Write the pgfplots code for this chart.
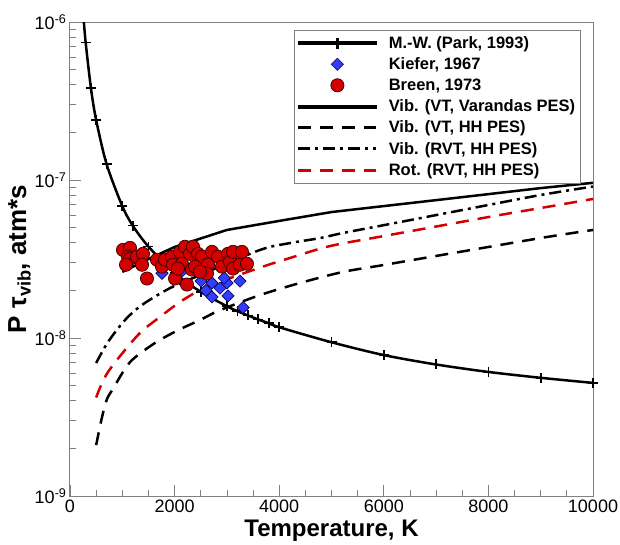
\documentclass[border=0pt]{standalone}
\usepackage{pgfplots}
\pgfplotsset{compat=1.18}
\usepackage{fontspec}
\setmainfont{Liberation Sans}
\definecolor{myred}{RGB}{212,0,0}
\definecolor{myblue}{RGB}{50,60,250}
\definecolor{axgray}{RGB}{128,128,128}
\begin{document}
\begin{tikzpicture}
\begin{axis}[
  name=ax,
  scale only axis, width=523pt, height=474pt,
  xmin=0, xmax=10000, ymin=1e-9, ymax=1e-6, ymode=log,
  scaled x ticks=false,
  xtick={0,2000,4000,6000,8000,10000},
  xticklabels={0,2000,4000,6000,8000,10000},
  minor x tick num=3,
  ytick={1e-9,1e-8,1e-7,1e-6},
  yticklabels={10\textsuperscript{-9},10\textsuperscript{-8},10\textsuperscript{-7},10\textsuperscript{-6}},
  xtick pos=bottom, ytick pos=left, tick align=inside,
  major tick length=11pt, minor tick length=6pt,
  axis line style={axgray, line width=1pt},
  every tick/.style={axgray, line width=0.8pt},
  tick label style={font=\fontsize{18}{20}\selectfont},
  xlabel={Temperature, K},
  ylabel={P τ\textsubscript{vib}, atm*s},
  xlabel style={font=\fontsize{24}{26}\selectfont\bfseries, yshift=-1pt},
  ylabel style={font=\fontsize{26}{28}\selectfont\bfseries, yshift=-3pt},
  legend cell align=left,
  legend style={at={(rel axis cs:0.976,0.983)}, anchor=north east, draw=axgray,
    font=\fontsize{16.5}{19}\selectfont\bfseries, row sep=3.8pt, inner xsep=3pt, inner ysep=4pt,
    /tikz/every odd column/.append style={column sep=9pt}},
  legend image code/.code={\draw[line width=2.8pt,mark repeat=2,mark phase=2,#1] plot coordinates {(0pt,0pt) (39pt,0pt) (78pt,0pt)};},
]
% Park curve line
\addplot[black, line width=2.5pt, smooth, forget plot] coordinates {
(265,1.0e-6) (300,7.40e-7) (400,3.82e-7) (500,2.40e-7) (700,1.26e-7) (1000,6.84e-8) (1200,5.14e-8) (1500,3.79e-8)
(2000,2.58e-8) (2500,1.96e-8) (3000,1.59e-8) (3200,1.48e-8) (3400,1.39e-8) (3600,1.31e-8) (3800,1.24e-8) (4000,1.17e-8)
(5000,9.4e-9) (6000,7.8e-9) (7000,6.8e-9) (8000,6.1e-9) (9000,5.6e-9) (10000,5.2e-9)};
\addplot[black, only marks, mark=+, mark size=5pt, mark options={line width=1.6pt}, forget plot] coordinates {
(300,7.40e-7) (400,3.82e-7) (500,2.40e-7) (700,1.26e-7) (1000,6.84e-8) (1200,5.14e-8) (1500,3.79e-8)
(2000,2.58e-8) (2500,1.96e-8) (3000,1.59e-8) (3200,1.48e-8) (3400,1.39e-8) (3600,1.31e-8) (3800,1.24e-8) (4000,1.17e-8)
(5000,9.4e-9) (6000,7.8e-9) (7000,6.8e-9) (8000,6.1e-9) (9000,5.6e-9) (10000,5.2e-9)};
% Kiefer 1967
\addplot[only marks, mark=square*, mark size=4.3pt, mark options={rotate=45, fill=myblue, draw=black!70!blue, line width=0.6pt}, forget plot] coordinates {
(1759,2.57e-8) (2122,2.61e-8) (2448,2.93e-8) (2505,2.29e-8) (2715,2.23e-8) (2715,1.82e-8) (2868,2.07e-8)
(3002,2.23e-8) (3021,1.85e-8) (3250,2.29e-8) (3308,1.56e-8) (2600,2.0e-8) (2950,2.4e-8)};
% Breen 1973
\addplot[only marks, mark=*, mark size=6.6pt, mark options={fill=myred, draw=black!80!red, line width=0.7pt}, forget plot] coordinates {
(1013,3.61e-8) (1147,3.72e-8) (1109,3.27e-8) (1150,3.18e-8) (1071,2.91e-8) (1281,3.27e-8) (1396,3.41e-8)
(1377,2.91e-8) (1472,2.38e-8) (1663,3.13e-8) (1759,2.83e-8) (1816,3.13e-8) (1950,3.27e-8) (1969,2.91e-8)
(2103,3.51e-8) (2141,2.95e-8) (2008,2.38e-8) (2199,3.78e-8) (2237,2.18e-8) (2294,3.41e-8) (2333,2.71e-8)
(2352,3.78e-8) (2447,3.41e-8) (2524,3.27e-8) (2639,2.91e-8) (2619,2.56e-8) (2715,3.51e-8) (2830,3.27e-8)
(2906,2.83e-8) (3021,3.41e-8) (3059,3.04e-8) (3117,3.51e-8) (3117,2.75e-8) (3250,2.91e-8) (3288,3.51e-8)
(3384,2.95e-8) (2065,2.75e-8) (2390,2.83e-8) (2486,2.63e-8)};
% Vib VT Varandas
\addplot[black, line width=2.5pt, forget plot] coordinates {
(1000,2.62e-8) (1500,3.16e-8) (2000,3.77e-8) (3000,4.83e-8) (4000,5.51e-8) (5000,6.27e-8) (6000,6.84e-8)
(7000,7.46e-8) (8000,8.14e-8) (9000,8.89e-8) (10000,9.6e-8)};
% Vib VT HH
\addplot[black, line width=2.5pt, dash pattern=on 13pt off 9pt, smooth, forget plot] coordinates {
(500,2.1e-9) (600,3.03e-9) (700,4.05e-9) (820,4.76e-9) (1150,7.05e-9) (1625,9.3e-9) (2065,1.12e-8) (2486,1.30e-8)
(2868,1.50e-8) (3633,1.87e-8) (4398,2.23e-8) (5220,2.62e-8) (6000,2.90e-8) (8000,3.77e-8) (9120,4.36e-8) (10000,4.83e-8)};
% Vib RVT HH
\addplot[black, line width=2.5pt, dash pattern=on 12pt off 5pt on 3pt off 5pt, smooth, forget plot] coordinates {
(500,6.95e-9) (727,9.44e-9) (1052,1.30e-8) (1377,1.62e-8) (1912,2.07e-8) (2486,2.50e-8) (3633,3.61e-8)
(4206,3.99e-8) (4780,4.29e-8) (5220,4.62e-8) (6310,5.42e-8) (8000,6.95e-8) (9000,8.04e-8) (10000,9.1e-8)};
% Rot RVT HH
\addplot[myred, line width=2.5pt, dash pattern=on 13pt off 9pt, smooth, forget plot] coordinates {
(500,4.2e-9) (727,6.10e-9) (1300,1.045e-8) (1721,1.36e-8) (2103,1.69e-8) (2486,2.01e-8) (2964,2.33e-8)
(3728,2.86e-8) (4206,3.21e-8) (4971,3.82e-8) (6000,4.42e-8) (8000,5.83e-8) (9000,6.65e-8) (10000,7.59e-8)};
% legend
\addlegendimage{legend image code/.code={
  \fill[black] (0pt,-1.5pt) rectangle (78pt,1.5pt);
  \fill[black] (38.2pt,-5pt) rectangle (39.8pt,5pt);}}
\addlegendentry{M.-W. (Park, 1993)}
\addlegendimage{only marks, mark=square*, mark size=4.3pt, mark options={rotate=45, fill=myblue, draw=black!70!blue, line width=0.6pt}}
\addlegendentry{Kiefer, 1967}
\addlegendimage{only marks, mark=*, mark size=6.6pt, mark options={fill=myred, draw=black!80!red, line width=0.7pt}}
\addlegendentry{Breen, 1973}
\addlegendimage{legend image code/.code={
  \fill[black] (0pt,-1.5pt) rectangle (78pt,1.5pt);}}
\addlegendentry{Vib. (VT, Varandas PES)}
\addlegendimage{black, line width=2.8pt, dash pattern=on 13pt off 9pt}
\addlegendentry{Vib. (VT, HH PES)}
\addlegendimage{black, line width=2.8pt, dash pattern=on 12pt off 5pt on 3pt off 5pt}
\addlegendentry{Vib. (RVT, HH PES)}
\addlegendimage{myred, line width=2.8pt, dash pattern=on 13pt off 9pt}
\addlegendentry{Rot. (RVT, HH PES)}
\end{axis}
\pgfresetboundingbox
\path ([xshift=-70pt,yshift=-48pt]ax.south west) rectangle ([xshift=27pt,yshift=22pt]ax.north east);
\end{tikzpicture}
\end{document}
